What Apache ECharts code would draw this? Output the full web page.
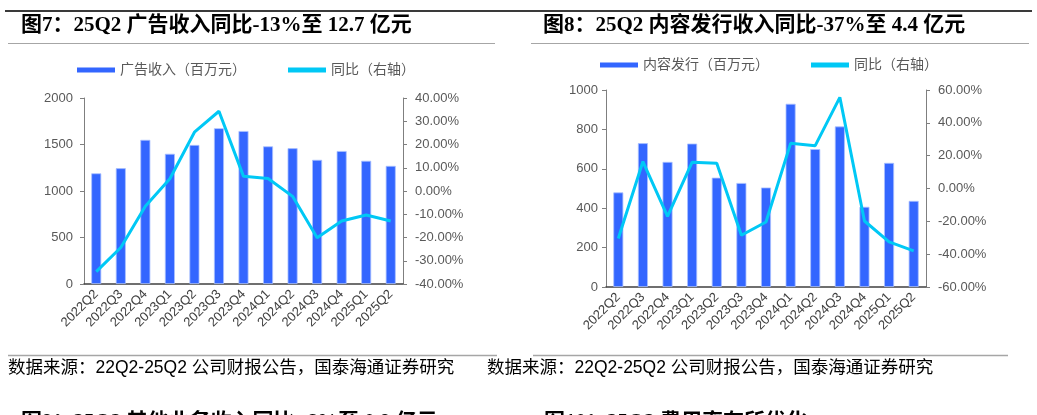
<!DOCTYPE html>
<html>
<head>
<meta charset="utf-8">
<script src="https://cdn.jsdelivr.net/npm/echarts@6/dist/echarts.min.js"></script>
<style>
html,body{margin:0;padding:0;background:#fff;}
#chart{width:1037px;height:415px;}
</style>
</head>
<body>
<div id="chart"></div>
<script>
// ---- data ----
var quarters = ['2022Q2','2022Q3','2022Q4','2023Q1','2023Q2','2023Q3','2023Q4','2024Q1','2024Q2','2024Q3','2024Q4','2025Q1','2025Q2'];
var adRevenue = [1190,1245,1550,1400,1495,1675,1645,1480,1460,1335,1430,1325,1270];
var adYoY = [-34.7,-24.3,-6.6,5.3,25.3,34.3,6.3,5.4,-2.3,-20.1,-12.9,-10.3,-12.9];
var contentRevenue = [480,730,635,728,555,528,505,930,700,815,407,630,437];
var contentYoY = [-30.5,16.4,-17.0,16.0,15.4,-28.5,-20.4,27.5,26.1,55.5,-19.8,-32.5,-38.0];

var title7 = '图7：25Q2 广告收入同比-13%至 12.7 亿元';
var title8 = '图8：25Q2 内容发行收入同比-37%至 4.4 亿元';
var title9 = '图9：25Q2 其他业务收入同比+6%至 0.9 亿元';
var title10 = '图10：25Q2 费用率有所优化';
var sourceText = '数据来源：22Q2-25Q2 公司财报公告，国泰海通证券研究';
var legendAd = ['广告收入（百万元）','同比（右轴）'];
var legendContent = ['内容发行（百万元）','同比（右轴）'];

var BAR = '#3366ff', LINE = '#00c8f5';
var titleFont = "'Liberation Serif','Noto Sans CJK SC',serif";
var cjk = "'Liberation Sans','Noto Sans CJK SC',sans-serif";

function pct(v){ return v.toFixed(2) + '%'; }
function plain(v){ return String(v); }

function yLeft(grid, max, interval, margin){
  return {type:'value', gridIndex:grid, min:0, max:max, interval:interval, position:'left',
    axisLine:{show:true, lineStyle:{color:'#7f7f7f', width:1}},
    axisTick:{show:true, inside:false, length:4, lineStyle:{color:'#7f7f7f'}},
    axisLabel:{color:'#595959', fontSize:13, fontFamily:cjk, margin:margin, formatter:plain},
    splitLine:{show:false}};
}
function yRight(grid, lim, interval){
  return {type:'value', gridIndex:grid, min:-lim, max:lim, interval:interval, position:'right',
    axisLine:{show:true, lineStyle:{color:'#7f7f7f', width:1}},
    axisTick:{show:true, inside:false, length:4, lineStyle:{color:'#7f7f7f'}},
    axisLabel:{color:'#595959', fontSize:13, fontFamily:cjk, margin:12, formatter:pct},
    splitLine:{show:false}};
}
function xAxis(grid){
  return {type:'category', gridIndex:grid, data:quarters,
    axisLine:{show:true, lineStyle:{color:'#404040', width:1.5}},
    axisTick:{show:false},
    axisLabel:{rotate:45, interval:0, fontSize:13, color:'#404040', fontFamily:cjk, margin:8}};
}

var chart = echarts.init(document.getElementById('chart'));
chart.setOption({
  animation:false,
  backgroundColor:'#fff',
  grid:[
    {left:84, top:98, width:319, height:186},
    {left:606, top:90, width:320, height:197}
  ],
  xAxis:[xAxis(0), xAxis(1)],
  yAxis:[yLeft(0,2000,500,11), yRight(0,40,10), yLeft(1,1000,200,8), yRight(1,60,20)],
  legend:[
    {left:77, top:63, padding:0, itemWidth:38, itemHeight:5, itemGap:42,
     itemStyle:{borderWidth:0},
     textStyle:{color:'#595959', fontSize:14, fontFamily:cjk},
     data:[{name:legendAd[0], icon:'rect'},{name:legendAd[1]+' ', icon:'rect'}]},
    {left:600, top:58, padding:0, itemWidth:38, itemHeight:5, itemGap:42,
     itemStyle:{borderWidth:0},
     textStyle:{color:'#595959', fontSize:14, fontFamily:cjk},
     data:[{name:legendContent[0], icon:'rect'},{name:legendContent[1], icon:'rect'}]}
  ],
  series:[
    {name:legendAd[0], type:'bar', xAxisIndex:0, yAxisIndex:0, data:adRevenue, barWidth:10,
     itemStyle:{color:BAR, borderColor:'#a9c0ff', borderWidth:0.8}},
    {name:legendAd[1]+' ', type:'line', xAxisIndex:0, yAxisIndex:1, data:adYoY, symbol:'none',
     lineStyle:{color:LINE, width:3}, itemStyle:{color:LINE}},
    {name:legendContent[0], type:'bar', xAxisIndex:1, yAxisIndex:2, data:contentRevenue, barWidth:10,
     itemStyle:{color:BAR, borderColor:'#a9c0ff', borderWidth:0.8}},
    {name:legendContent[1], type:'line', xAxisIndex:1, yAxisIndex:3, data:contentYoY, symbol:'none',
     lineStyle:{color:LINE, width:3}, itemStyle:{color:LINE}}
  ],
  graphic:[
    {type:'line', shape:{x1:5,y1:11,x2:1032,y2:11}, style:{stroke:'#3a3a3a', lineWidth:2}},
    {type:'line', shape:{x1:8,y1:43.5,x2:495,y2:43.5}, style:{stroke:'#a6a6a6', lineWidth:1}},
    {type:'line', shape:{x1:531,y1:43.5,x2:1029,y2:43.5}, style:{stroke:'#a6a6a6', lineWidth:1}},
    {type:'line', shape:{x1:8,y1:355.5,x2:497,y2:355.5}, style:{stroke:'#a6a6a6', lineWidth:1.5}},
    {type:'line', shape:{x1:533,y1:355.5,x2:1008,y2:355.5}, style:{stroke:'#a6a6a6', lineWidth:1.5}},
    {type:'text', x:21, y:26, style:{text:title7, fill:'#000', fontSize:21, fontWeight:'bold', fontFamily:titleFont, verticalAlign:'middle'}},
    {type:'text', x:543, y:26, style:{text:title8, fill:'#000', fontSize:21, fontWeight:'bold', fontFamily:titleFont, verticalAlign:'middle'}},
    {type:'text', x:8, y:368, style:{text:sourceText, fill:'#000', fontSize:17.5, fontFamily:cjk, verticalAlign:'middle'}},
    {type:'text', x:487, y:368, style:{text:sourceText, fill:'#000', fontSize:17.5, fontFamily:cjk, verticalAlign:'middle'}},
    {type:'text', x:21, y:423, style:{text:title9, fill:'#000', fontSize:21, fontWeight:'bold', fontFamily:titleFont, verticalAlign:'middle'}},
    {type:'text', x:544, y:423, style:{text:title10, fill:'#000', fontSize:21, fontWeight:'bold', fontFamily:titleFont, verticalAlign:'middle'}}
  ]
});
</script>
</body>
</html>
